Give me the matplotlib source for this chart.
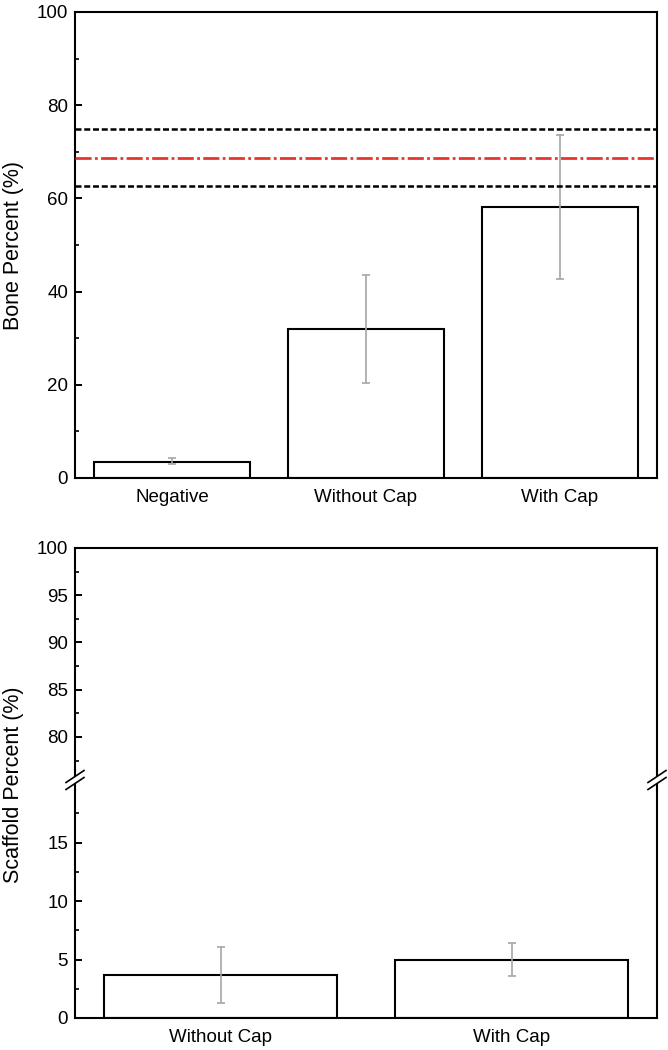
import matplotlib
matplotlib.use("Agg")
import matplotlib.pyplot as plt
from matplotlib.ticker import MultipleLocator
from matplotlib.lines import Line2D
from matplotlib.patches import Polygon

plt.rcParams['font.family'] = ['Liberation Sans', 'DejaVu Sans']

# ---- data ----
bone_categories = ["Negative", "Without Cap", "With Cap"]
bone_values = [3.5, 32.0, 58.2]
bone_err_low = [3.0, 20.4, 42.7]
bone_err_high = [4.2, 43.5, 73.7]
ref_mean = 68.7
ref_upper = 74.8
ref_lower = 62.6

scaffold_categories = ["Without Cap", "With Cap"]
scaffold_values = [3.7, 5.0]
scaffold_err_low = [1.3, 3.6]
scaffold_err_high = [6.1, 6.4]

W, H = 668, 1050
fig = plt.figure(figsize=(W / 100, H / 100), dpi=100)

def frac(x0, y_top, x1, y_bot):
    return [x0 / W, 1 - y_bot / H, (x1 - x0) / W, (y_bot - y_top) / H]

SPW = 1.5
ERRC = "#a6a6a6"

def style(ax):
    for s in ax.spines.values():
        s.set_linewidth(SPW)
    ax.tick_params(axis='y', which='major', direction='in', length=5, width=1.4,
                   labelsize=13.5, right=False, pad=5)
    ax.tick_params(axis='y', which='minor', direction='in', length=3, width=1.2, right=False)
    ax.tick_params(axis='x', length=0, labelsize=13.5, pad=8)

# ---- top panel ----
ax1 = fig.add_axes(frac(75, 12, 657, 478))
x1 = list(range(len(bone_categories)))
yerr1 = [[v - l for v, l in zip(bone_values, bone_err_low)],
         [h - v for v, h in zip(bone_values, bone_err_high)]]
ax1.bar(x1, bone_values, width=0.8, color="white", edgecolor="black", linewidth=1.5, zorder=2)
ax1.errorbar(x1, bone_values, yerr=yerr1, fmt='none', ecolor=ERRC, elinewidth=1.2,
             capsize=3.0, capthick=1.2, zorder=3)
ax1.axhline(ref_upper, color="black", lw=1.8, linestyle=(0, (2.4, 1.1)), zorder=4)
ax1.axhline(ref_lower, color="black", lw=1.8, linestyle=(0, (2.4, 1.1)), zorder=4)
ax1.axhline(ref_mean, color="#e8352b", lw=2.0, linestyle=(0, (5.8, 1.2, 1.0, 1.2)), zorder=4)
ax1.set_xlim(-0.5, 2.5)
ax1.set_ylim(0, 100)
ax1.set_xticks(x1)
ax1.set_xticklabels(bone_categories)
ax1.yaxis.set_major_locator(MultipleLocator(20))
ax1.yaxis.set_minor_locator(MultipleLocator(10))
style(ax1)
ax1.set_ylabel("Bone Percent (%)", fontsize=15.5, labelpad=9)

# ---- bottom panel (broken axis) ----
top_px, brk_top, brk_bot, bot_px = 548, 770, 790, 1018
ax_up = fig.add_axes(frac(75, top_px, 657, brk_top))
ax_lo = fig.add_axes(frac(75, brk_bot, 657, bot_px))
ax_up.set_ylim(76.5, 100)
ax_lo.set_ylim(0, 19.5)

x2 = list(range(len(scaffold_categories)))
yerr2 = [[v - l for v, l in zip(scaffold_values, scaffold_err_low)],
         [h - v for v, h in zip(scaffold_values, scaffold_err_high)]]
ax_lo.bar(x2, scaffold_values, width=0.8, color="white", edgecolor="black", linewidth=1.5, zorder=2)
ax_lo.errorbar(x2, scaffold_values, yerr=yerr2, fmt='none', ecolor=ERRC, elinewidth=1.2,
               capsize=3.0, capthick=1.2, zorder=3)
for ax in (ax_up, ax_lo):
    ax.set_xlim(-0.5, 1.5)
    style(ax)
ax_lo.set_xticks(x2)
ax_lo.set_xticklabels(scaffold_categories)
ax_up.set_xticks([])
ax_up.spines['bottom'].set_visible(False)
ax_lo.spines['top'].set_visible(False)
ax_up.yaxis.set_major_locator(MultipleLocator(5))
ax_up.yaxis.set_minor_locator(MultipleLocator(2.5))
ax_lo.yaxis.set_major_locator(MultipleLocator(5))
ax_lo.yaxis.set_minor_locator(MultipleLocator(2.5))

# continuous spines through gap and break marks
for xp in (75, 657):
    fx = xp / W
    fig.add_artist(Line2D([fx, fx], [1 - brk_top / H, 1 - brk_bot / H], color="black",
                          lw=SPW, transform=fig.transFigure))
    yc = (brk_top + brk_bot) / 2
    d = 3.5
    poly = Polygon([[(xp - 9) / W, 1 - (yc - d + 6) / H], [(xp + 9) / W, 1 - (yc - d - 6) / H],
                    [(xp + 9) / W, 1 - (yc + d - 6) / H], [(xp - 9) / W, 1 - (yc + d + 6) / H]],
                   closed=True, facecolor="white", edgecolor="none", transform=fig.transFigure,
                   zorder=10)
    fig.add_artist(poly)
    for off in (-d, d):
        fig.add_artist(Line2D([(xp - 9) / W, (xp + 9) / W],
                              [1 - (yc + off + 6) / H, 1 - (yc + off - 6) / H],
                              color="black", lw=1.2, transform=fig.transFigure, zorder=11))

fig.text(14 / W, 1 - 785 / H, "Scaffold Percent (%)", rotation=90, fontsize=15.5,
         ha="center", va="center")

fig.savefig("out.png", dpi=100)
